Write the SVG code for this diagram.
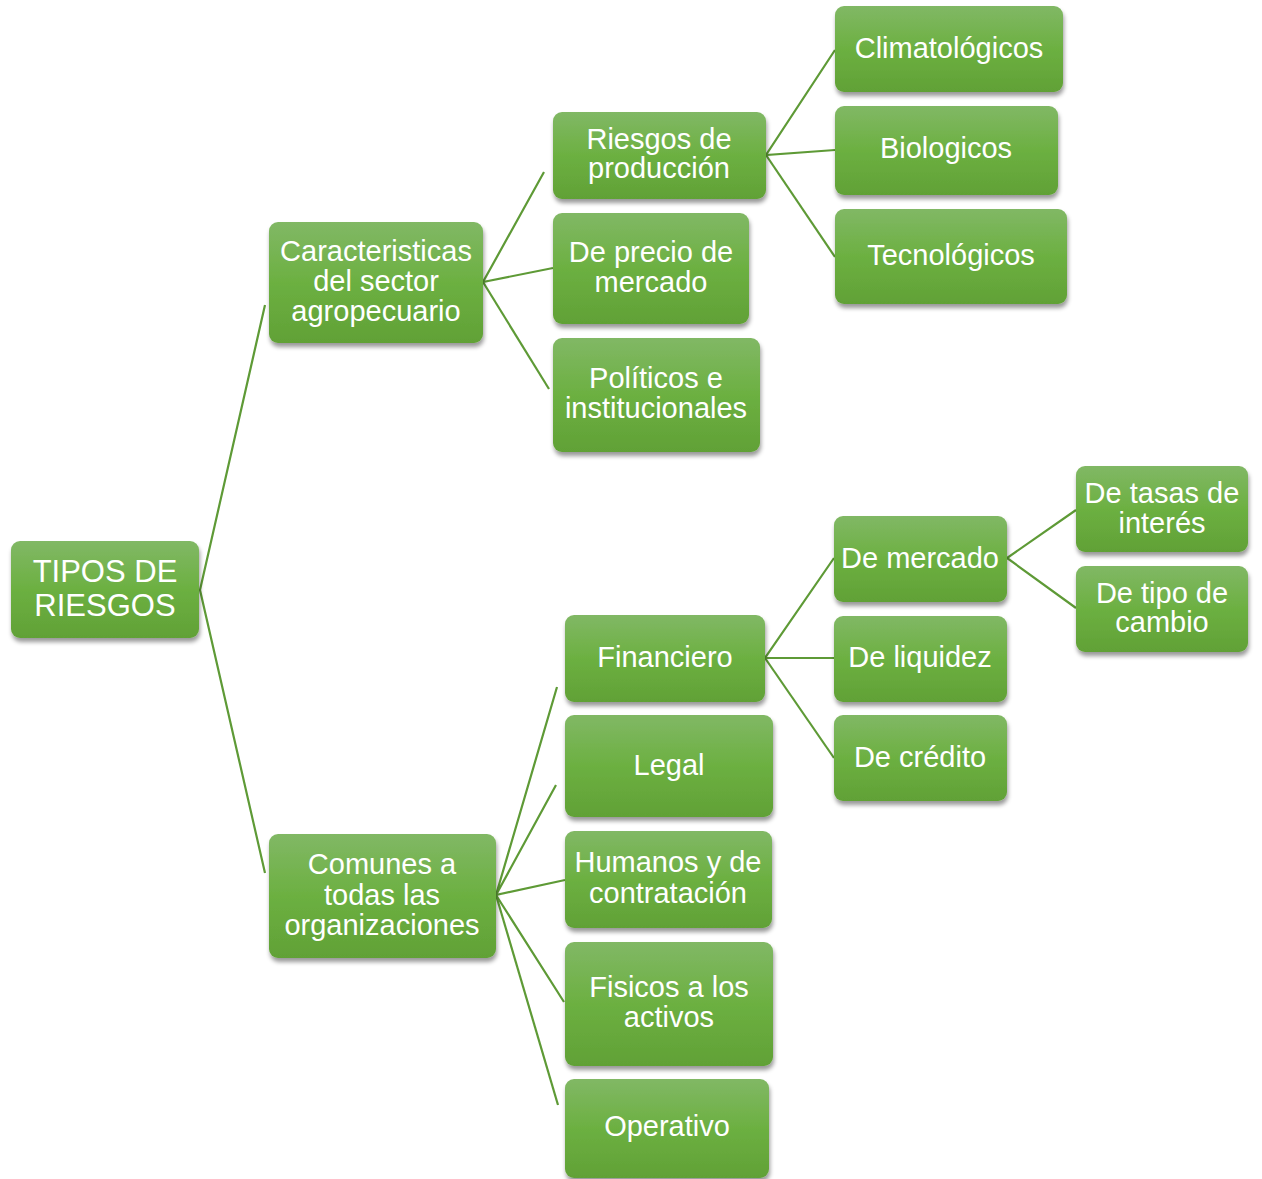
<svg xmlns="http://www.w3.org/2000/svg" width="1262" height="1179" viewBox="0 0 1262 1179">
<defs>
<linearGradient id="g" x1="0" y1="0" x2="0" y2="1">
<stop offset="0" stop-color="#81b865"/>
<stop offset="0.5" stop-color="#6cb041"/>
<stop offset="1" stop-color="#61a136"/>
</linearGradient>
<filter id="sh" x="-10%" y="-10%" width="125%" height="135%">
<feDropShadow dx="1" dy="4" stdDeviation="2.2" flood-color="#000" flood-opacity="0.4"/>
</filter>
</defs>
<style>
.box{fill:url(#g);filter:url(#sh);}
.t{font-family:"Liberation Sans",Arial,sans-serif;font-size:29px;fill:#fff;text-anchor:middle;}
.big{font-size:31px;}
.c{stroke:#5e9a36;stroke-width:2.2;fill:none;}
</style>
<g id="connectors">
<polyline class="c" points="265,305 200,590 265,873"/>
<polyline class="c" points="544,172 483,282 553,268"/>
<line class="c" x1="483" y1="282" x2="549" y2="389"/>
<polyline class="c" points="835,50 766,155 835,150"/>
<line class="c" x1="766" y1="155" x2="835" y2="257"/>
<polyline class="c" points="834,558 765,658 834,658"/>
<line class="c" x1="765" y1="658" x2="834" y2="758"/>
<polyline class="c" points="1076,510 1007,558 1076,608"/>
<polyline class="c" points="557,687 496,895 556,785"/>
<polyline class="c" points="565,880 496,895 564,1002"/>
<line class="c" x1="496" y1="895" x2="558" y2="1105"/>
</g>
<g id="n-tipos"><rect class="box" x="11" y="541" width="188" height="97" rx="9"/><text class="t big" x="105" y="582">TIPOS DE</text><text class="t big" x="105" y="616">RIESGOS</text></g>
<g id="n-caract"><rect class="box" x="269" y="222" width="214" height="121" rx="9"/><text class="t" x="376" y="261">Caracteristicas</text><text class="t" x="376" y="291">del sector</text><text class="t" x="376" y="321">agropecuario</text></g>
<g id="n-riesgosprod"><rect class="box" x="553" y="112" width="213" height="87" rx="9"/><text class="t" x="659" y="149">Riesgos de</text><text class="t" x="659" y="178">producción</text></g>
<g id="n-precio"><rect class="box" x="553" y="213" width="196" height="111" rx="9"/><text class="t" x="651" y="262">De precio de</text><text class="t" x="651" y="292">mercado</text></g>
<g id="n-politicos"><rect class="box" x="553" y="338" width="207" height="114" rx="9"/><text class="t" x="656" y="388">Políticos e</text><text class="t" x="656" y="418">institucionales</text></g>
<g id="n-clima"><rect class="box" x="835" y="6" width="228" height="86" rx="9"/><text class="t" x="949" y="58">Climatológicos</text></g>
<g id="n-bio"><rect class="box" x="835" y="106" width="223" height="89" rx="9"/><text class="t" x="946" y="158">Biologicos</text></g>
<g id="n-tecno"><rect class="box" x="835" y="209" width="232" height="95" rx="9"/><text class="t" x="951" y="265">Tecnológicos</text></g>
<g id="n-comunes"><rect class="box" x="269" y="834" width="227" height="124" rx="9"/><text class="t" x="382" y="874">Comunes a</text><text class="t" x="382" y="905">todas las</text><text class="t" x="382" y="935">organizaciones</text></g>
<g id="n-financiero"><rect class="box" x="565" y="615" width="200" height="87" rx="9"/><text class="t" x="665" y="667">Financiero</text></g>
<g id="n-legal"><rect class="box" x="565" y="715" width="208" height="102" rx="9"/><text class="t" x="669" y="775">Legal</text></g>
<g id="n-humanos"><rect class="box" x="565" y="831" width="207" height="97" rx="9"/><text class="t" x="668" y="872">Humanos y de</text><text class="t" x="668" y="903">contratación</text></g>
<g id="n-fisicos"><rect class="box" x="565" y="942" width="208" height="124" rx="9"/><text class="t" x="669" y="997">Fisicos a los</text><text class="t" x="669" y="1027">activos</text></g>
<g id="n-operativo"><rect class="box" x="565" y="1079" width="204" height="99" rx="9"/><text class="t" x="667" y="1136">Operativo</text></g>
<g id="n-demercado"><rect class="box" x="834" y="516" width="173" height="86" rx="9"/><text class="t" x="920" y="568">De mercado</text></g>
<g id="n-liquidez"><rect class="box" x="834" y="616" width="173" height="86" rx="9"/><text class="t" x="920" y="667">De liquidez</text></g>
<g id="n-credito"><rect class="box" x="834" y="715" width="173" height="86" rx="9"/><text class="t" x="920" y="767">De crédito</text></g>
<g id="n-tasas"><rect class="box" x="1076" y="466" width="172" height="86" rx="9"/><text class="t" x="1162" y="503">De tasas de</text><text class="t" x="1162" y="533">interés</text></g>
<g id="n-tipocambio"><rect class="box" x="1076" y="566" width="172" height="86" rx="9"/><text class="t" x="1162" y="603">De tipo de</text><text class="t" x="1162" y="632">cambio</text></g>
</svg>
